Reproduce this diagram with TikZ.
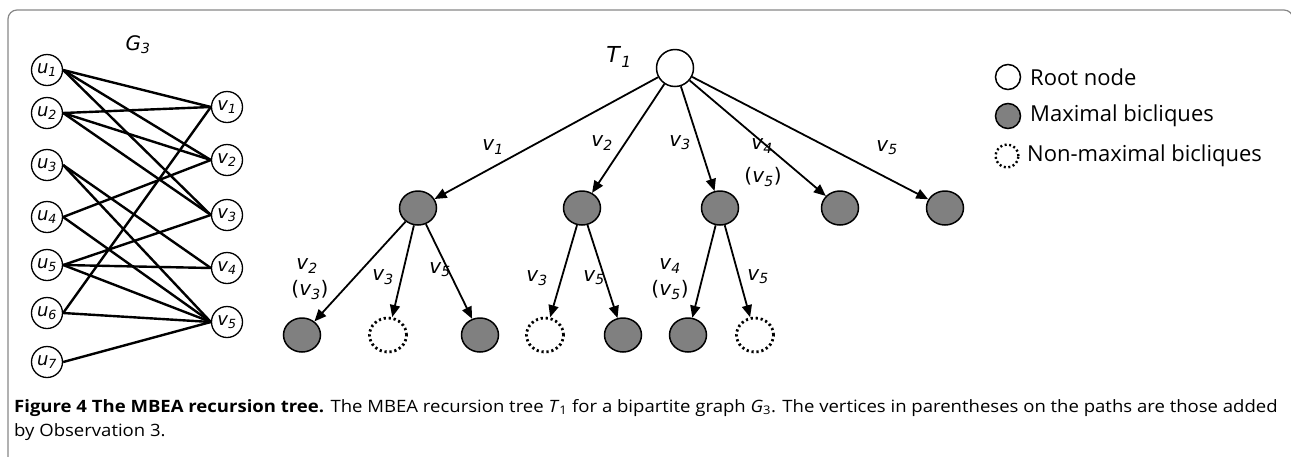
\documentclass[tikz,border=0pt]{standalone}
\usepackage{fontspec}
\setmainfont{DejaVu Sans}
\newfontfamily\legfont{Open Sans}
\newfontfamily\capfont[FakeStretch=1.09]{Open Sans}
\usetikzlibrary{arrows.meta,shapes.geometric}
\definecolor{bicl}{RGB}{128,128,128}
\definecolor{framegray}{RGB}{135,135,135}
\newcommand{\lab}[2]{\textit{#1}\textsubscript{\textit{#2}}}
\tikzset{
  >={Triangle[length=12pt,width=10pt]},
  vert/.style={circle,draw,line width=1.3pt,minimum size=31pt,inner sep=0pt,font=\fontsize{18}{18}\selectfont},
  rootnode/.style={circle,draw,line width=1.5pt,minimum size=37pt,fill=white},
  maxb/.style={ellipse,draw,line width=1.5pt,fill=bicl,minimum width=37pt,minimum height=34pt},
  nonmax/.style={ellipse,draw,line width=2.8pt,dash pattern=on 2.2pt off 2.8pt,minimum width=37pt,minimum height=34pt},
  lbl/.style={font=\fontsize{20}{20}\selectfont,inner sep=0pt},
  arr/.style={->,line width=1.8pt},
  gedge/.style={line width=2.4pt},
  legtext/.style={anchor=west,inner sep=0pt,font=\legfont\fontsize{22}{22}\selectfont}
}
\begin{document}
\begin{tikzpicture}[x=1pt,y=-1pt]
        \useasboundingbox (0,0) rectangle (1291,456);
        \draw[framegray,line width=1.2pt,rounded corners=9pt] (8,470) -- (8,10) -- (1293,10) -- (1293,470);
        %% Graph G3
        \node[lbl,font=\fontsize{20}{20}\selectfont] (g3) at (138,45) {\lab{G}{3}};
        \foreach \i/\y in {1/70,2/113,3/165,4/217,5/265,6/313,7/362}
            \node[vert] (u\i) at (47,\y) {\lab{u}{\i}};
        \foreach \i/\y in {1/107,2/160,3/215,4/268,5/322}
            \node[vert] (v\i) at (227,\y) {\lab{v}{\i}};
        \foreach \a/\b in {1/1,1/2,1/3,2/1,2/2,2/3,3/4,3/5,4/2,4/5,5/3,5/4,5/5,6/1,6/5,7/5}
            \draw[gedge] (u\a.east) -- (v\b.west);
        %% Tree T1
        \node[rootnode] (r) at (675,68) {};
        \node[lbl,font=\fontsize{22}{22}\selectfont] (t1) at (619,57) {\lab{T}{1}};
        \foreach \i/\x in {1/418,2/582,3/720,4/840,5/945}
            \node[maxb] (a\i) at (\x,208) {};
        \node[maxb] (b1) at (302,335) {};
        \node[nonmax] (b2) at (388,335) {};
        \node[maxb] (b3) at (480,335) {};
        \node[nonmax] (b4) at (545,335) {};
        \node[maxb] (b5) at (623,335) {};
        \node[maxb] (b6) at (688,335) {};
        \node[nonmax] (b7) at (755,335) {};
        \foreach \i in {1,...,5}
            \draw[arr] (r) -- (a\i);
        \foreach \p/\c in {a1/b1,a1/b2,a1/b3,a2/b4,a2/b5,a3/b6,a3/b7}
            \draw[arr] (\p) -- (\c);
        %% Edge labels
        \node[lbl] (l1) at (493,147) {\lab{v}{1}};
        \node[lbl] (l2) at (602,143) {\lab{v}{2}};
        \node[lbl] (l3) at (680,143) {\lab{v}{3}};
        \node[lbl] (l4) at (762,146) {\lab{v}{4}};
        \node[lbl] (l4b) at (763,177) {(\lab{v}{5})};
        \node[lbl] (l5) at (887,148) {\lab{v}{5}};
        \node[lbl] (m1) at (307,266) {\lab{v}{2}};
        \node[lbl] (m1b) at (310,290) {(\lab{v}{3})};
        \node[lbl] (m2) at (383,277) {\lab{v}{3}};
        \node[lbl] (m3) at (440,270) {\lab{v}{5}};
        \node[lbl] (m4) at (537,278) {\lab{v}{3}};
        \node[lbl] (m5) at (594,278) {\lab{v}{5}};
        \node[lbl] (m6) at (670,266) {\lab{v}{4}};
        \node[lbl] (m6b) at (670,290) {(\lab{v}{5})};
        \node[lbl] (m7) at (758,277) {\lab{v}{5}};
        %% Legend
        \node[circle,draw,line width=1.5pt,minimum width=25pt,inner sep=0pt] (k1) at (1008,77) {};
        \node[circle,draw,line width=1.5pt,fill=bicl,minimum width=25pt,inner sep=0pt] (k2) at (1008,116) {};
        \node[circle,draw,line width=2.4pt,dash pattern=on 2pt off 2.6pt,minimum width=23pt,inner sep=0pt] (k3) at (1007,156) {};
        \node[legtext] (k1t) at (1030,77) {Root node};
        \node[legtext] (k2t) at (1030,116) {Maximal bicliques};
        \node[legtext] (k3t) at (1027,156) {Non-maximal bicliques};
        %% Caption
        \node[anchor=north west,align=left,inner sep=0pt,font=\capfont\fontsize{17}{24}\selectfont] (cap) at (14,399)
            {\textbf{Figure 4 The MBEA recursion tree.} The MBEA recursion tree \textit{T}\textsubscript{1} for a bipartite graph \textit{G}\textsubscript{3}. The vertices in parentheses on the paths are those added\\by Observation 3.};
\end{tikzpicture}
\end{document}
